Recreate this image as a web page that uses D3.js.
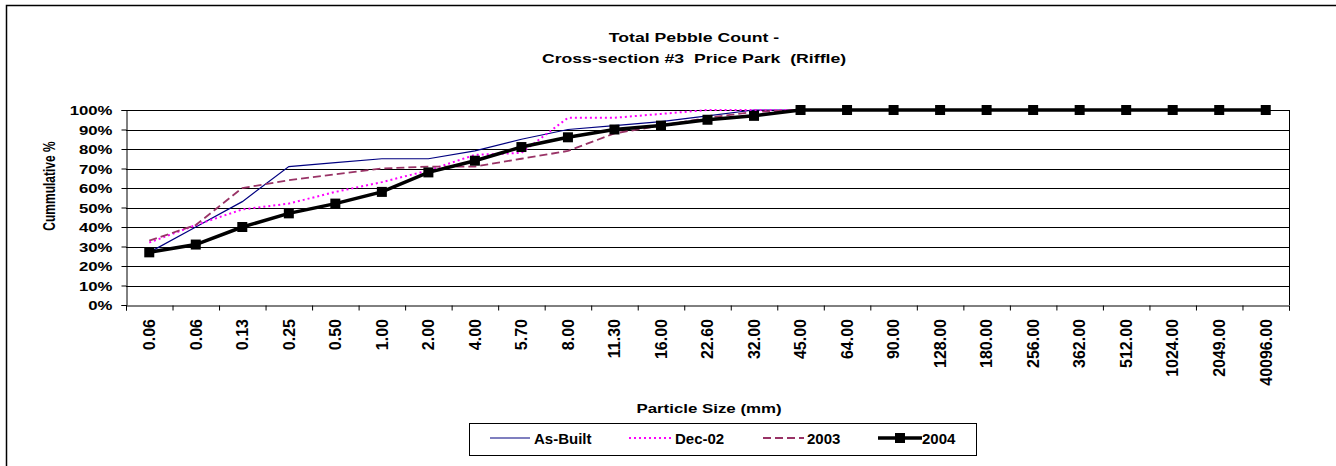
<!DOCTYPE html>
<html>
<head>
<meta charset="utf-8">
<script src="https://cdn.jsdelivr.net/npm/d3@7"></script>
<style>
  body { margin: 0; background: #fff; }
  svg text { font-family: "Liberation Sans", Arial, sans-serif; font-weight: bold; fill: #000; }
</style>
</head>
<body>
<div class="chart"></div>
<script>
// Data
var sizes = ["0.06", "0.06", "0.13", "0.25", "0.50", "1.00", "2.00", "4.00", "5.70", "8.00",
  "11.30", "16.00", "22.60", "32.00", "45.00", "64.00", "90.00", "128.00", "180.00", "256.00",
  "362.00", "512.00", "1024.00", "2049.00", "40096.00"];

var asBuilt = [27, 40, 53, 71, 73, 75, 75, 79, 85, 90, 92, 94, 97, 100, 100, 100, 100, 100, 100, 100, 100, 100, 100, 100, 100];
var dec02 = [32, 41, 49, 52, 58, 63, 69, 77, 78, 96, 96, 98, 100, 100, 100, 100, 100, 100, 100, 100, 100, 100, 100, 100, 100];
var y2003 = [33, 41, 60, 64, 67, 70, 71, 71, 75, 79, 88, 92, 96, 99, 100, 100, 100, 100, 100, 100, 100, 100, 100, 100, 100];
var y2004 = [27, 31, 40, 47, 52, 58, 68, 74, 81, 86, 90, 92, 95, 97, 100, 100, 100, 100, 100, 100, 100, 100, 100, 100, 100];

var yTicks = [0, 10, 20, 30, 40, 50, 60, 70, 80, 90, 100];

var svgWidth = 1336;
var svgHeight = 466;
var plot = { left: 126, right: 1289, top: 110, bottom: 305 };

var svg = d3.select(".chart")
  .append("svg")
  .attr("width", svgWidth)
  .attr("height", svgHeight)
  .style("display", "block");

// outer chart border (runs off the right / bottom of the picture)
svg.append("rect")
  .attr("x", 6.5)
  .attr("y", 5.5)
  .attr("width", 1400)
  .attr("height", 500)
  .attr("fill", "none")
  .attr("stroke", "#000")
  .attr("stroke-width", 1.5);

// scales
var x = d3.scaleBand()
  .domain(d3.range(sizes.length))
  .range([plot.left, plot.right]);

var xEdge = d3.scaleLinear()
  .domain([0, sizes.length])
  .range([plot.left, plot.right]);

var y = d3.scaleLinear()
  .domain([0, 100])
  .range([plot.bottom, plot.top]);

var cx = i => x(i) + x.bandwidth() / 2;

// gridlines
svg.append("g")
  .selectAll("line")
  .data(yTicks.slice(1))
  .enter()
  .append("line")
  .attr("x1", plot.left)
  .attr("x2", plot.right)
  .attr("y1", d => Math.round(y(d)) + 0.5)
  .attr("y2", d => Math.round(y(d)) + 0.5)
  .attr("stroke", "#000")
  .attr("stroke-width", 1);

// right border of plot area
svg.append("line")
  .attr("x1", plot.right + 0.5)
  .attr("x2", plot.right + 0.5)
  .attr("y1", plot.top)
  .attr("y2", plot.bottom)
  .attr("stroke", "#000");

// y axis
var leftAxis = d3.axisLeft(y)
  .tickValues(yTicks)
  .tickSize(5)
  .tickFormat(d => d + "%");

var yAxis = svg.append("g")
  .attr("transform", `translate(${plot.left + 0.5}, 0)`)
  .call(leftAxis);
yAxis.select(".domain").attr("stroke", "#000");
yAxis.selectAll("text")
  .attr("x", 0)
  .attr("dy", "0.36em")
  .attr("font-size", 12.5)
  .attr("transform", "translate(-14,0) scale(1.34,1)");

// x axis: ticks on category edges, labels on category centres
var edgeAxis = d3.axisBottom(xEdge)
  .tickValues(d3.range(sizes.length + 1))
  .tickSize(5)
  .tickFormat("");

svg.append("g")
  .attr("transform", `translate(0, ${plot.bottom + 0.5})`)
  .call(edgeAxis)
  .select(".domain").attr("stroke", "#000");

var bottomAxis = d3.axisBottom(x)
  .tickSize(0)
  .tickFormat(i => sizes[i]);

var xAxis = svg.append("g")
  .attr("transform", `translate(0, ${plot.bottom})`)
  .call(bottomAxis);
xAxis.select(".domain").remove();
xAxis.selectAll("text")
  .attr("font-size", 16)
  .attr("text-anchor", "end")
  .attr("x", -14)
  .attr("y", 0)
  .attr("dy", "0.36em")
  .attr("transform", "rotate(-90)");

// series lines
var line = d3.line()
  .x((d, i) => cx(i))
  .y(d => y(d));

var series = [
  { name: "As-Built", values: asBuilt, color: "#000080", width: 1.2, dash: null },
  { name: "Dec-02", values: dec02, color: "#ff00ff", width: 2, dash: "2,3" },
  { name: "2003", values: y2003, color: "#993366", width: 1.8, dash: "8,4" },
  { name: "2004", values: y2004, color: "#000", width: 3.5, dash: null }
];

svg.append("g")
  .selectAll("path")
  .data(series)
  .enter()
  .append("path")
  .attr("d", d => line(d.values))
  .attr("fill", "none")
  .attr("stroke", d => d.color)
  .attr("stroke-width", d => d.width)
  .attr("stroke-dasharray", d => d.dash);

// square markers for 2004
svg.append("g")
  .selectAll("rect")
  .data(y2004)
  .enter()
  .append("rect")
  .attr("x", (d, i) => cx(i) - 5)
  .attr("y", d => y(d) - 5)
  .attr("width", 10)
  .attr("height", 10)
  .attr("fill", "#000");

// titles
var title = ["Total Pebble Count -", "Cross-section #3  Price Park  (Riffle)"];
svg.append("g")
  .selectAll("text")
  .data(title)
  .enter()
  .append("text")
  .attr("transform", (d, i) => `translate(694, ${42 + i * 21}) scale(1.36,1)`)
  .attr("text-anchor", "middle")
  .attr("font-size", 13)
  .style("white-space", "pre")
  .text(d => d);

svg.append("text")
  .attr("transform", "translate(55, 186) scale(1.35,1) rotate(-90)")
  .attr("text-anchor", "middle")
  .attr("font-size", 12)
  .text("Cummulative %");

svg.append("text")
  .attr("transform", "translate(709, 413) scale(1.35,1)")
  .attr("text-anchor", "middle")
  .attr("font-size", 12.5)
  .text("Particle Size (mm)");

// legend
var legend = svg.append("g");
legend.append("rect")
  .attr("x", 469.5)
  .attr("y", 423.5)
  .attr("width", 507)
  .attr("height", 32)
  .attr("fill", "#fff")
  .attr("stroke", "#000");

var legendPos = [
  { x1: 490, x2: 530, tx: 534 },
  { x1: 629, x2: 672, tx: 675 },
  { x1: 763, x2: 804, tx: 807 },
  { x1: 878, x2: 922, tx: 922 }
];

series.forEach(function(s, i) {
  var p = legendPos[i];
  legend.append("line")
    .attr("x1", p.x1)
    .attr("x2", p.x2)
    .attr("y1", 438)
    .attr("y2", 438)
    .attr("stroke", s.color)
    .attr("stroke-width", s.width)
    .attr("stroke-dasharray", s.dash);
  if (s.name === "2004") {
    legend.append("rect")
      .attr("x", (p.x1 + p.x2) / 2 - 5)
      .attr("y", 433)
      .attr("width", 10)
      .attr("height", 10)
      .attr("fill", "#000");
  }
  legend.append("text")
    .attr("x", p.tx)
    .attr("y", 444)
    .attr("font-size", 15)
    .text(s.name);
});
</script>
</body>
</html>
